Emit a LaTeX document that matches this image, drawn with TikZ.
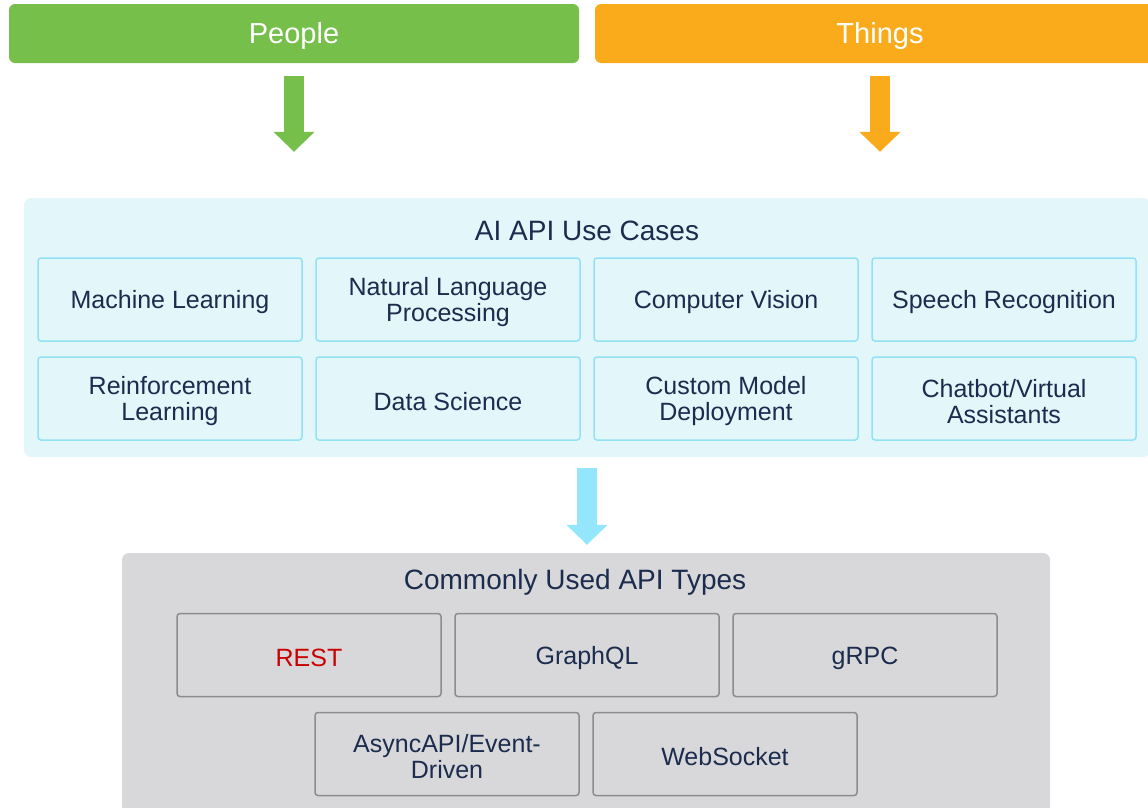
\documentclass[tikz,border=0pt]{standalone}
\usepackage{fontspec}
\setmainfont{Liberation Sans}
\usetikzlibrary
  {
    arrows.meta,              % big triangle arrow heads
    positioning,              % place nodes relative to other nodes
    calc,
  }

\definecolor{peoplegreen}{HTML}{76BF4B}
\definecolor{thingsorange}{HTML}{FAAB1C}
\definecolor{usepanel}{HTML}{E3F6FA}
\definecolor{useborder}{HTML}{92E2F6}
\definecolor{flowcyan}{HTML}{93E6FB}
\definecolor{typepanel}{HTML}{D8D8DA}
\definecolor{typeborder}{HTML}{8C8C8E}
\definecolor{navy}{HTML}{1B2C4E}
\definecolor{restred}{HTML}{C80000}

\begin{document}
\begin{tikzpicture}[x=1pt, y=-1pt,
    bar/.style={rounded corners=6pt, minimum width=570pt, minimum height=59pt,
      inner sep=0pt, text=white, font=\fontsize{29}{32}\selectfont,
      execute at begin node={\rule{0pt}{27pt}}},
    panel/.style={rounded corners=7pt, inner sep=0pt},
    heading/.style={inner sep=0pt, text=navy, font=\fontsize{28}{30}\selectfont},
    usebox/.style={draw=useborder, fill=usepanel, line width=1.5pt,
      rounded corners=3pt, minimum width=264pt, minimum height=83pt,
      inner sep=0pt, align=center, text=navy, font=\fontsize{25}{26}\selectfont,
      execute at begin node={\rule{0pt}{24pt}}},
    twoline/.style={execute at begin node={\rule{0pt}{50pt}}},
    typebox/.style={usebox, draw=typeborder, fill=typepanel},
    blockarrow/.style={line width=20pt, -{Triangle[width=40pt,length=20pt]}},
  ]
    \clip (0,0) rectangle (1148,807);

    % the two sources
    \node [bar, fill=peoplegreen] (people) at (294,33.5) {People};
    \node [bar, fill=thingsorange] (things) at (880,33.5) {Things};

    % use cases panel
    \node [panel, fill=usepanel, minimum width=1126pt, minimum height=259pt]
      (usecases) at (587,327.5) {};
    \node [heading] (usetitle) at (587,231) {AI API Use Cases};

    \node [usebox] (ml) at (170,299.5) {Machine Learning};
    \node [usebox, twoline] (nlp) at (448,299.5) {Natural Language\\Processing};
    \node [usebox] (cv) at (726,299.5) {Computer Vision};
    \node [usebox] (speech) at (1004,299.5) {Speech Recognition};
    \node [usebox, twoline] (rl) at (170,398.5) {Reinforcement\\Learning};
    \node [usebox] (datasci) at (448,398.5) {Data Science};
    \node [usebox, twoline] (custom) at (726,398.5) {Custom Model\\Deployment};
    \node [usebox, twoline] (chatbot) at (1004,398.5) {Chatbot/Virtual\\Assistants};

    % api types panel, runs off the bottom
    \node [panel, fill=typepanel, minimum width=928pt, minimum height=280pt]
      (types) at (586,693) {};
    \node [heading] (typetitle) at (575,582.5) {Commonly Used API Types};

    \node [typebox, text=restred] (rest) at (309,655) {REST};
    \node [typebox] (graphql) at (587,655) {GraphQL};
    \node [typebox] (grpc) at (865,655) {gRPC};
    \node [typebox, twoline] (async) at (447,754) {AsyncAPI/Event-\\Driven};
    \node [typebox] (websocket) at (725,754) {WebSocket};

    % block arrows
    \draw [blockarrow, peoplegreen, shorten <=13pt, shorten >=46pt]
      (people.south) -- (people.south |- usecases.north);
    \draw [blockarrow, thingsorange, shorten <=13pt, shorten >=46pt]
      (things.south) -- (things.south |- usecases.north);
    \draw [blockarrow, flowcyan, shorten <=11pt, shorten >=8pt]
      (usecases.south) -- (usecases.south |- types.north);

  \end{tikzpicture}
\end{document}
